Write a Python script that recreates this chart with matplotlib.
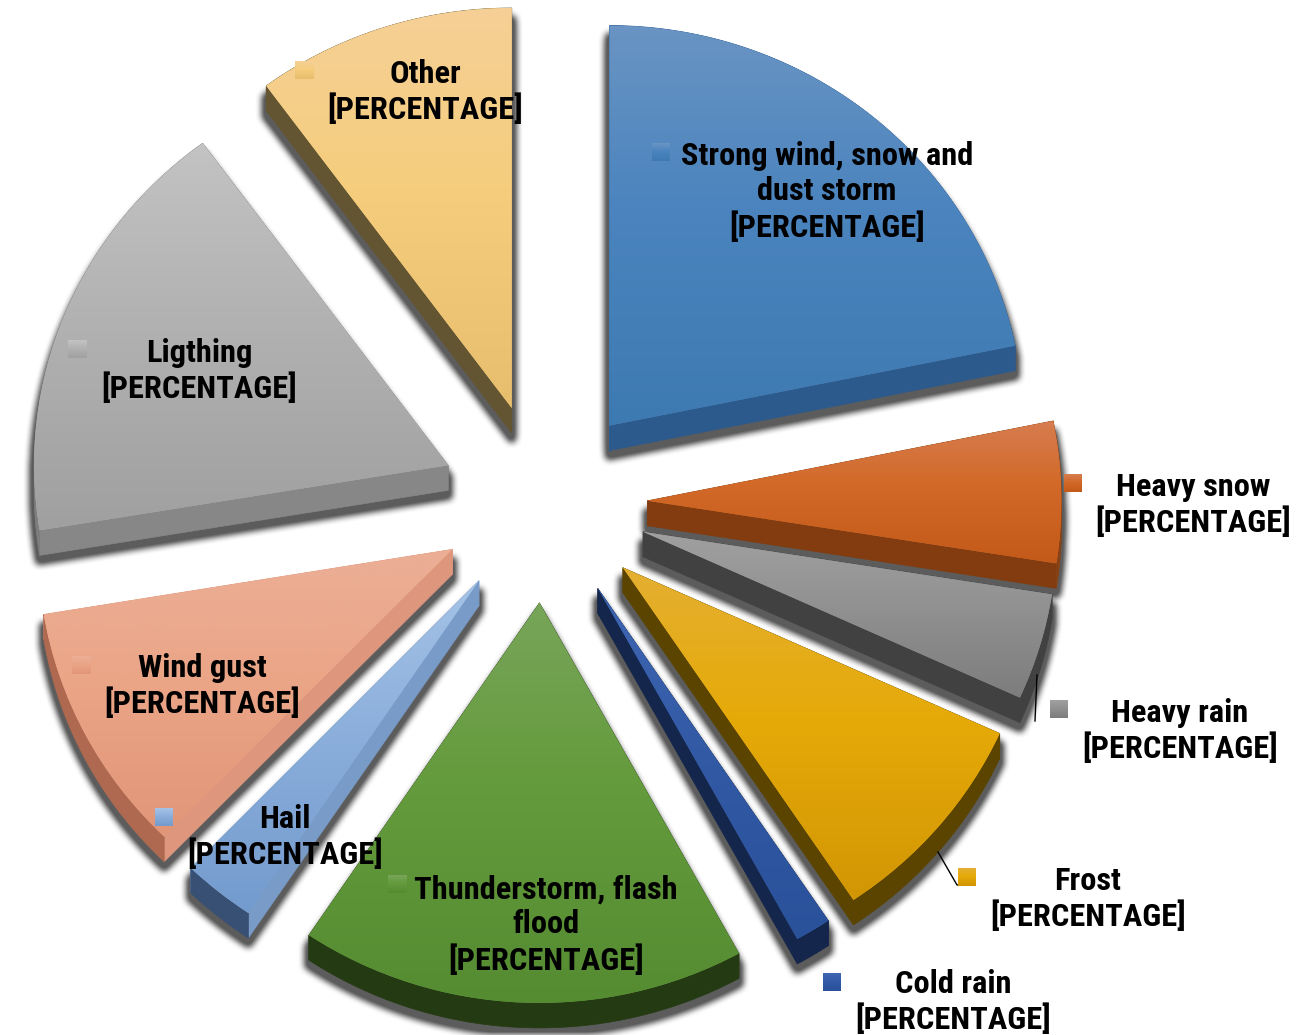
import numpy as np
import matplotlib
matplotlib.use("Agg")
import matplotlib.pyplot as plt
from matplotlib.figure import Figure
from matplotlib.backends.backend_agg import FigureCanvasAgg
from matplotlib.patches import Polygon

categories = ["Strong wind, snow and\ndust storm", "Heavy snow", "Heavy rain", "Frost", "Cold rain",
              "Thunderstorm, flash\nflood", "Hail", "Wind gust", "Ligthing", "Other"]
values = [21.8, 5.7, 4.3, 8.8, 1.4, 17.4, 2.85, 10.15, 17.5, 10.1]
top_colors = [(105,148,195),(215,125,80),(160,160,160),(228,175,50),(62,102,178),
              (120,165,90),(165,195,230),(235,175,150),(195,195,195),(245,208,150)]
mid_colors = [(75,132,190),(210,105,40),(145,145,145),(230,170,8),(50,90,165),
              (100,155,60),(140,175,220),(235,165,135),(178,178,178),(245,205,125)]
low_colors = [(62,122,178),(195,90,25),(125,125,125),(210,150,5),(42,82,155),
              (85,140,50),(115,155,205),(225,150,120),(160,160,160),(230,190,110)]
radial_colors = [(45,90,140),(130,60,15),(65,65,65),(90,68,0),(20,38,75),
                 (36,58,18),(120,155,200),(222,150,125),(135,135,135),(100,85,50)]
arc_colors = [(45,90,140),(135,65,20),(65,65,65),(90,68,0),(20,38,75),
              (36,58,18),(55,80,115),(175,105,80),(125,125,125),(100,85,50)]
label_centers = [(827,192),(1193,505),(1180,731),(1088,899),(953,1002),
                 (546,925),(285,837),(202,686),(199,371),(425,92)]
key_centers = [(661,152),(1073,483),(1059,709),(967,877),(832,982),
               (397,884),(164,817),(81,665),(77,349),(304,70)]

W, H = 1304, 1035
SX = 1.035
CX, CY = 544, 503
RADIUS = 400
EXPLODE = 100
DEPTH = 25

def P(x, y):
    return x / SX, H - y

def rgb(c):
    return tuple(v / 255 for v in c)

plt.rcParams['font.family'] = ['Roboto Condensed', 'Liberation Sans', 'DejaVu Sans']
fig = plt.figure(figsize=(W / 100, H / 100), dpi=100)
ax = fig.add_axes([0, 0, 1, 1])
wedges, _ = ax.pie(values, startangle=90, counterclock=False, radius=RADIUS,
                   center=P(CX, CY), explode=[EXPLODE] * len(values),
                   colors=[rgb(c) for c in mid_colors], frame=False)
ax.set_aspect('auto')
ax.set_xlim(0, W / SX)
ax.set_ylim(0, H)
ax.axis('off')

def outline(w):
    t = np.radians(np.linspace(w.theta1, w.theta2, 120))
    return w.center[0] + w.r * np.cos(t), w.center[1] + w.r * np.sin(t)

# soft shadow mask rendered off screen
sfig = Figure(figsize=(W / 100, H / 100), dpi=100, facecolor='white')
canvas = FigureCanvasAgg(sfig)
sax = sfig.add_axes([0, 0, 1, 1])
sax.set_xlim(0, W / SX); sax.set_ylim(0, H); sax.axis('off')
for w in wedges:
    ax_, ay_ = outline(w)
    cx_, cy_ = w.center
    px = np.r_[cx_, ax_]
    py = np.r_[cy_, ay_]
    for dz in np.arange(12, DEPTH + 8, 3):
        sax.add_patch(Polygon(np.c_[px, py - dz], closed=True, fc='k', ec='k', lw=7, joinstyle='round'))
canvas.draw()
mask = 1 - np.asarray(canvas.buffer_rgba())[..., 0].astype(float) / 255

def box(a, r, axis):
    k = np.ones(2 * r + 1) / (2 * r + 1)
    return np.apply_along_axis(lambda v: np.convolve(v, k, mode='same'), axis, a)

soft = mask
for _ in range(2):
    soft = box(box(soft, 3, 0), 3, 1)
soft = np.clip(soft * 1.2, 0, 1) * 0.8
shadow = np.zeros((H, W, 4))
shadow[..., :3] = 0.2
shadow[..., 3] = soft
ax.imshow(shadow, extent=(0, W / SX, 0, H), origin='upper', aspect='auto', zorder=0.1)

# sides and gradient tops
for i, w in enumerate(wedges):
    ax_, ay_ = outline(w)
    cx_, cy_ = w.center
    for ex, ey in ((ax_[0], ay_[0]), (ax_[-1], ay_[-1])):
        ax.add_patch(Polygon([(cx_, cy_), (ex, ey), (ex, ey - DEPTH), (cx_, cy_ - DEPTH)], closed=True,
                             fc=rgb(radial_colors[i]), ec=rgb(radial_colors[i]), lw=0.5, zorder=0.5))
    band = np.r_[np.c_[ax_, ay_], np.c_[ax_, ay_ - DEPTH][::-1]]
    ax.add_patch(Polygon(band, closed=True, fc=rgb(arc_colors[i]), ec=rgb(arc_colors[i]), lw=0.5, zorder=0.6))
    xs = np.r_[cx_, ax_]; ys = np.r_[cy_, ay_]
    pos = np.linspace(0, 1, 128)
    grad = np.stack([np.interp(pos, [0, 0.45, 1], [top_colors[i][k], mid_colors[i][k], low_colors[i][k]]) / 255
                     for k in range(3)], axis=-1)[:, None, :]
    w.set_edgecolor('none')
    im = ax.imshow(grad, extent=(xs.min(), xs.max(), ys.min(), ys.max()), origin='upper',
                   aspect='auto', zorder=1.5)
    im.set_clip_path(w)

# leader lines
for pts in ([(1037, 675), (1035, 721)], [(938, 852), (957, 885), (969, 885)]):
    xy = [P(*p) for p in pts]
    ax.plot([p[0] for p in xy], [p[1] for p in xy], color='k', lw=1, zorder=2)

# legend keys and labels
for i, name in enumerate(categories):
    kx, ky = P(*key_centers[i])
    hw = 9 / SX
    pos = np.linspace(0, 1, 32)
    grad = np.stack([np.interp(pos, [0, 0.45, 1], [top_colors[i][k], mid_colors[i][k], low_colors[i][k]]) / 255
                     for k in range(3)], axis=-1)[:, None, :]
    ax.imshow(grad, extent=(kx - hw, kx + hw, ky - 9, ky + 9), origin='upper', aspect='auto', zorder=2.5)
    lx, ly = P(*label_centers[i])
    ax.text(lx, ly, name + "\n[PERCENTAGE]", ha='center', va='center', ma='center',
            fontsize=23.3, fontweight='bold', color='k', linespacing=1.19, zorder=3)

ax.set_xlim(0, W / SX)
ax.set_ylim(0, H)
fig.savefig("out.png", dpi=100, facecolor='white')
